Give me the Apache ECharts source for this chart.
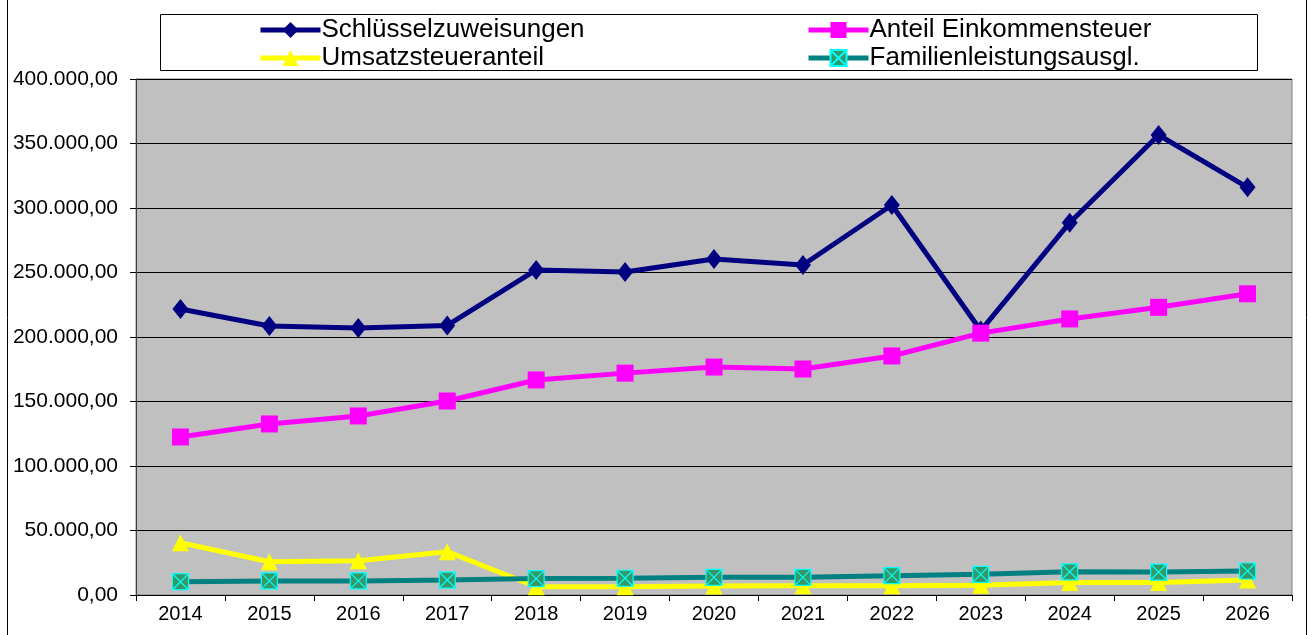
<!DOCTYPE html>
<html>
<head>
<meta charset="utf-8">
<script src="https://cdn.jsdelivr.net/npm/echarts@6/dist/echarts.min.js"></script>
<style>
  html, body { margin: 0; padding: 0; background: #fff; }
  #chart { width: 1310px; height: 635px; }
</style>
</head>
<body>
<div id="chart"></div>
<script>
const years = ['2014', '2015', '2016', '2017', '2018', '2019', '2020', '2021', '2022', '2023', '2024', '2025', '2026']
const schluessel = [221700, 208500, 207000, 209000, 252000, 250400, 260500, 255800, 302300, 205000, 288600, 356600, 316000]
const einkommen = [122500, 132600, 138800, 150400, 166700, 172000, 176700, 175200, 185300, 203000, 214000, 223000, 233500]
const umsatz = [40500, 25800, 26600, 33600, 6400, 6400, 7000, 7200, 7200, 7500, 9600, 9600, 11600]
const familien = [10300, 10900, 10900, 11600, 12700, 13000, 13700, 13700, 15000, 16000, 18000, 17800, 18600]

const chart = echarts.init(document.getElementById('chart'))

const fmt = v => v.toLocaleString('de-DE', { minimumFractionDigits: 2, maximumFractionDigits: 2 })
const font = 'Arial, "Liberation Sans", sans-serif'
const boxX = 'path://M0,0 L10,0 L10,10 L0,10 Z M0,0 L10,10 M10,0 L0,10'

function legendAt(name, left, top) {
  return {
    data: [name],
    left: left,
    top: top,
    itemWidth: 60,
    itemHeight: 20,
    itemGap: 0,
    padding: 0,
    selectedMode: false,
    lineStyle: { width: 5 },
    textStyle: { fontFamily: font, fontSize: 26, color: '#000', padding: [0, 0, 0, -4] }
  }
}

function line(name, data, color, symbol, size, extra) {
  return Object.assign({
    name: name,
    type: 'line',
    data: data,
    symbol: symbol,
    symbolSize: size,
    lineStyle: { color: color, width: 5 },
    itemStyle: { color: color },
    emphasis: { disabled: true },
    animation: false
  }, extra || {})
}

chart.setOption({
  backgroundColor: '#fff',
  legend: [
    legendAt('Schlüsselzuweisungen', 258, 17),
    legendAt('Anteil Einkommensteuer', 806, 17),
    legendAt('Umsatzsteueranteil', 258, 45),
    legendAt('Familienleistungsausgl.', 806, 45)
  ],
  graphic: [
    { type: 'rect', shape: { x: 160.5, y: 14.5, width: 1097, height: 56 }, style: { fill: 'none', stroke: '#000', lineWidth: 1 }, silent: true },
    { type: 'line', shape: { x1: 7.5, y1: 0, x2: 7.5, y2: 635 }, style: { stroke: '#000', lineWidth: 1 }, silent: true },
    { type: 'line', shape: { x1: 1306.5, y1: 0, x2: 1306.5, y2: 635 }, style: { stroke: '#000', lineWidth: 1 }, silent: true }
  ],
  grid: {
    left: 136,
    right: 18,
    top: 79,
    bottom: 40,
    show: true,
    backgroundColor: '#c0c0c0',
    borderColor: '#808080',
    borderWidth: 1
  },
  xAxis: {
    type: 'category',
    data: years,
    boundaryGap: true,
    axisLine: { lineStyle: { color: '#000', width: 1 } },
    axisTick: { show: true, length: 6, lineStyle: { color: '#000' } },
    axisLabel: { color: '#000', fontFamily: font, fontSize: 20, margin: 9 },
    splitLine: { show: false }
  },
  yAxis: {
    type: 'value',
    min: 0,
    max: 400000,
    interval: 50000,
    axisLine: { show: true, lineStyle: { color: '#404040', width: 1 } },
    axisTick: { show: true, length: 6, lineStyle: { color: '#000' } },
    axisLabel: { color: '#000', fontFamily: font, fontSize: 21, margin: 18, formatter: fmt },
    splitLine: { show: true, lineStyle: { color: '#000', width: 1 } }
  },
  series: [
    line('Schlüsselzuweisungen', schluessel, '#000080', 'diamond', [16, 20]),
    line('Anteil Einkommensteuer', einkommen, '#ff00ff', 'rect', 17),
    line('Umsatzsteueranteil', umsatz, '#ffff00', 'triangle', 17),
    line('Familienleistungsausgl.', familien, '#008080', boxX, 16, {
      itemStyle: { color: '#339966', borderColor: '#00ffff', borderWidth: 1.2 }
    })
  ]
})
</script>
</body>
</html>
